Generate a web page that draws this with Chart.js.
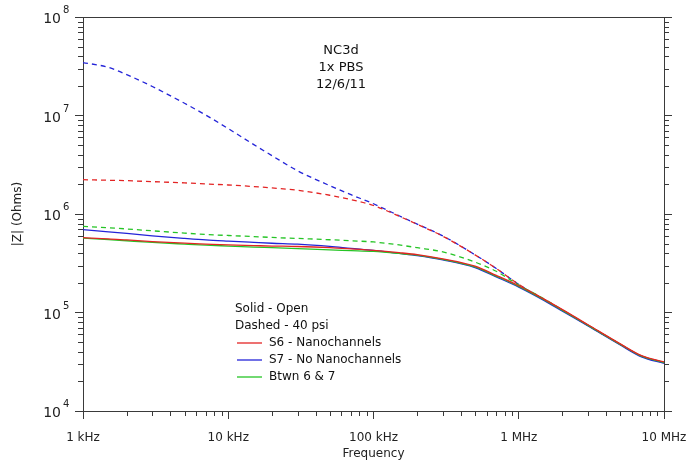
<!DOCTYPE html>
<html>
<head>
<meta charset="utf-8">
<script src="https://cdn.jsdelivr.net/npm/chart.js@4.4.0/dist/chart.umd.min.js"></script>
<style>
  body { margin: 0; background: #fff; }
  #wrap { width: 691px; height: 462px; }
</style>
</head>
<body>
<div id="wrap"><canvas id="nc3d-impedance" width="691" height="462"></canvas></div>
<script>
// FREQUENCY (Hz)
var freq = [1e3, 1.5e3, 2e3, 3e3, 5e3, 7e3, 1e4, 1.5e4, 2e4, 3e4, 5e4, 7e4, 1e5, 1.5e5, 2e5, 3e5, 5e5, 7e5, 1e6, 1.5e6, 2e6, 3e6, 5e6, 7e6, 1e7];

// SOLID - OPEN
var s6Open   = [5.75e5, 5.6e5, 5.45e5, 5.25e5, 5.05e5, 4.95e5, 4.85e5, 4.78e5, 4.73e5, 4.68e5, 4.55e5, 4.42e5, 4.27e5, 4.05e5, 3.87e5, 3.5e5, 2.95e5, 2.38e5, 1.87e5, 1.36e5, 1.07e5, 7.5e4, 4.8e4, 3.65e4, 3.15e4];
var s7Open   = [6.95e5, 6.6e5, 6.35e5, 6.0e5, 5.65e5, 5.45e5, 5.3e5, 5.15e5, 5.05e5, 4.95e5, 4.7e5, 4.48e5, 4.27e5, 3.98e5, 3.78e5, 3.42e5, 2.86e5, 2.3e5, 1.81e5, 1.32e5, 1.03e5, 7.3e4, 4.68e4, 3.55e4, 3.05e4];
var btwnOpen = [5.7e5, 5.5e5, 5.35e5, 5.15e5, 4.95e5, 4.83e5, 4.73e5, 4.62e5, 4.55e5, 4.45e5, 4.32e5, 4.25e5, 4.17e5, 3.98e5, 3.82e5, 3.46e5, 2.9e5, 2.34e5, 1.84e5, 1.34e5, 1.05e5, 7.4e4, 4.75e4, 3.6e4, 3.1e4];

// DASHED - 40 PSI
var s6Psi   = [2.23e6, 2.2e6, 2.18e6, 2.13e6, 2.07e6, 2.02e6, 1.97e6, 1.9e6, 1.84e6, 1.74e6, 1.55e6, 1.4e6, 1.22e6, 9.5e5, 7.85e5, 5.95e5, 3.85e5, 2.8e5, 1.93e5, 1.36e5, 1.06e5, 7.45e4, 4.78e4, 3.62e4, 3.12e4];
var s7Psi   = [3.45e7, 3.08e7, 2.6e7, 1.97e7, 1.33e7, 1.01e7, 7.36e6, 5.06e6, 3.91e6, 2.75e6, 1.94e6, 1.57e6, 1.27e6, 9.6e5, 7.9e5, 6.0e5, 3.85e5, 2.8e5, 1.93e5, 1.34e5, 1.05e5, 7.4e4, 4.75e4, 3.6e4, 3.1e4];
var btwnPsi = [7.5e5, 7.25e5, 7.05e5, 6.75e5, 6.4e5, 6.2e5, 6.05e5, 5.9e5, 5.78e5, 5.65e5, 5.48e5, 5.35e5, 5.2e5, 4.85e5, 4.55e5, 4.12e5, 3.25e5, 2.62e5, 1.9e5, 1.37e5, 1.06e5, 7.4e4, 4.75e4, 3.6e4, 3.1e4];

// AXES
var xDecades = [1e3, 1e4, 1e5, 1e6, 1e7];
var xLabels = ['1 kHz', '10 kHz', '100 kHz', '1 MHz', '10 MHz'];
var yDecades = [1e4, 1e5, 1e6, 1e7, 1e8];
var yExponents = ['4', '5', '6', '7', '8'];

// TEXT
var titleLines = ['NC3d', '1x PBS', '12/6/11'];
var legendNotes = ['Solid - Open', 'Dashed - 40 psi'];
var seriesNames = ['S6 - Nanochannels', 'S7 - No Nanochannels', 'Btwn 6 & 7'];

var RED = '#e32424';
var BLUE = '#2424d8';
var GREEN = '#26c426';
var AXIS = '#3a3a3a';
var FONT = '"DejaVu Sans", sans-serif';

function pts(arr) {
    return freq.map(function (f, i) { return { x: f, y: arr[i] }; });
}

function line(color, arr, dashed) {
    return {
        data: pts(arr),
        borderColor: color,
        backgroundColor: color,
        borderWidth: 1.3,
        borderDash: dashed ? [5, 4] : [],
        pointRadius: 0,
        fill: false,
        cubicInterpolationMode: 'monotone'
    };
}

// minor ticks (2..9) on the log axes
var minorTicks = {
    id: 'minorTicks',
    afterDraw: function (chart) {
        var ctx = chart.ctx, a = chart.chartArea;
        var sx = chart.scales.x, sy = chart.scales.y;
        ctx.save();
        ctx.strokeStyle = AXIS;
        ctx.lineWidth = 1;
        ctx.beginPath();
        xDecades.forEach(function (d) {
            for (var m = 2; m <= 9; m++) {
                if (d * m > sx.max) break;
                var px = Math.round(sx.getPixelForValue(d * m)) + 0.5;
                ctx.moveTo(px, a.bottom); ctx.lineTo(px, a.bottom + 5);
            }
        });
        yDecades.forEach(function (d) {
            for (var m = 2; m <= 9; m++) {
                if (d * m > sy.max) break;
                var py = Math.round(sy.getPixelForValue(d * m)) + 0.5;
                ctx.moveTo(a.left, py); ctx.lineTo(a.left - 5, py);
                ctx.moveTo(a.right, py); ctx.lineTo(a.right + 5, py);
            }
        });
        ctx.stroke();
        ctx.restore();
    }
};

// 10^n labels on the y axis
var powerLabels = {
    id: 'powerLabels',
    afterDraw: function (chart) {
        var ctx = chart.ctx, sy = chart.scales.y, a = chart.chartArea;
        ctx.save();
        ctx.fillStyle = '#222';
        yDecades.forEach(function (d, i) {
            var py = sy.getPixelForValue(d);
            ctx.font = '14px ' + FONT;
            ctx.textAlign = 'right';
            ctx.textBaseline = 'alphabetic';
            ctx.fillText('10', a.left - 22, py + 6);
            ctx.font = '10px ' + FONT;
            ctx.textAlign = 'left';
            ctx.fillText(yExponents[i], a.left - 20, py - 4);
        });
        ctx.restore();
    }
};

// title block and legend inside the plot
var notes = {
    id: 'notes',
    afterDraw: function (chart) {
        var ctx = chart.ctx;
        ctx.save();
        ctx.fillStyle = '#111';
        ctx.font = '13px ' + FONT;
        ctx.textAlign = 'center';
        ctx.textBaseline = 'middle';
        titleLines.forEach(function (t, i) {
            ctx.fillText(t, 341, 51 + i * 17);
        });

        ctx.font = '12px ' + FONT;
        ctx.textAlign = 'left';
        legendNotes.forEach(function (t, i) {
            ctx.fillText(t, 235, 309 + i * 17);
        });
        var colors = [RED, BLUE, GREEN];
        seriesNames.forEach(function (t, i) {
            var y = 343 + i * 17;
            ctx.strokeStyle = colors[i];
            ctx.lineWidth = 1.3;
            ctx.beginPath();
            ctx.moveTo(237, y); ctx.lineTo(262, y);
            ctx.stroke();
            ctx.fillText(t, 269, y);
        });
        ctx.restore();
    }
};

var ctx = document.getElementById('nc3d-impedance').getContext('2d');
var impedance = new Chart(ctx, {
    type: 'line',
    data: {
        datasets: [
            line(RED, s6Open, false),
            line(GREEN, btwnOpen, false),
            line(BLUE, s7Open, false),
            line(GREEN, btwnPsi, true),
            line(RED, s6Psi, true),
            line(BLUE, s7Psi, true)
        ]
    },
    options: {
        responsive: false,
        animation: false,
        layout: { padding: 0 },
        plugins: {
            legend: { display: false },
            tooltip: { enabled: false }
        },
        scales: {
            x: {
                type: 'logarithmic',
                position: 'bottom',
                min: 1e3,
                max: 1e7,
                afterBuildTicks: function (scale) {
                    scale.ticks = xDecades.map(function (v) { return { value: v }; });
                },
                afterFit: function (scale) {
                    scale.height = 51;
                    // edge labels may hang past the frame
                    scale.paddingLeft = 0;
                    scale.paddingRight = 0;
                },
                ticks: {
                    autoSkip: false,
                    maxRotation: 0,
                    padding: 12,
                    color: '#222',
                    font: { family: FONT, size: 12 },
                    callback: function (v) { return xLabels[xDecades.indexOf(v)]; }
                },
                grid: { drawOnChartArea: false, color: AXIS, tickLength: 8 },
                border: { color: AXIS, width: 1 },
                title: {
                    display: true,
                    text: 'Frequency',
                    color: '#222',
                    font: { family: FONT, size: 12 },
                    padding: { top: 0, bottom: 1 }
                }
            },
            xTop: {
                type: 'logarithmic',
                position: 'top',
                min: 1e3,
                max: 1e7,
                afterFit: function (scale) { scale.height = 17; },
                ticks: { display: false },
                grid: { drawOnChartArea: false, drawTicks: false },
                border: { color: AXIS, width: 1 }
            },
            y: {
                type: 'logarithmic',
                position: 'left',
                min: 1e4,
                max: 1e8,
                afterBuildTicks: function (scale) {
                    scale.ticks = yDecades.map(function (v) { return { value: v }; });
                },
                afterFit: function (scale) { scale.width = 83; },
                ticks: { display: false },
                grid: { drawOnChartArea: false, color: AXIS, tickLength: 8 },
                border: { color: AXIS, width: 1 },
                title: {
                    display: true,
                    text: '|Z| (Ohms)',
                    color: '#222',
                    font: { family: FONT, size: 12 },
                    padding: { top: 11, bottom: 0 }
                }
            },
            yRight: {
                type: 'logarithmic',
                position: 'right',
                min: 1e4,
                max: 1e8,
                afterBuildTicks: function (scale) {
                    scale.ticks = yDecades.map(function (v) { return { value: v }; });
                },
                afterFit: function (scale) { scale.width = 27; },
                ticks: { display: false },
                grid: { drawOnChartArea: false, color: AXIS, tickLength: 8 },
                border: { color: AXIS, width: 1 }
            }
        }
    },
    plugins: [minorTicks, powerLabels, notes]
});
</script>
</body>
</html>
